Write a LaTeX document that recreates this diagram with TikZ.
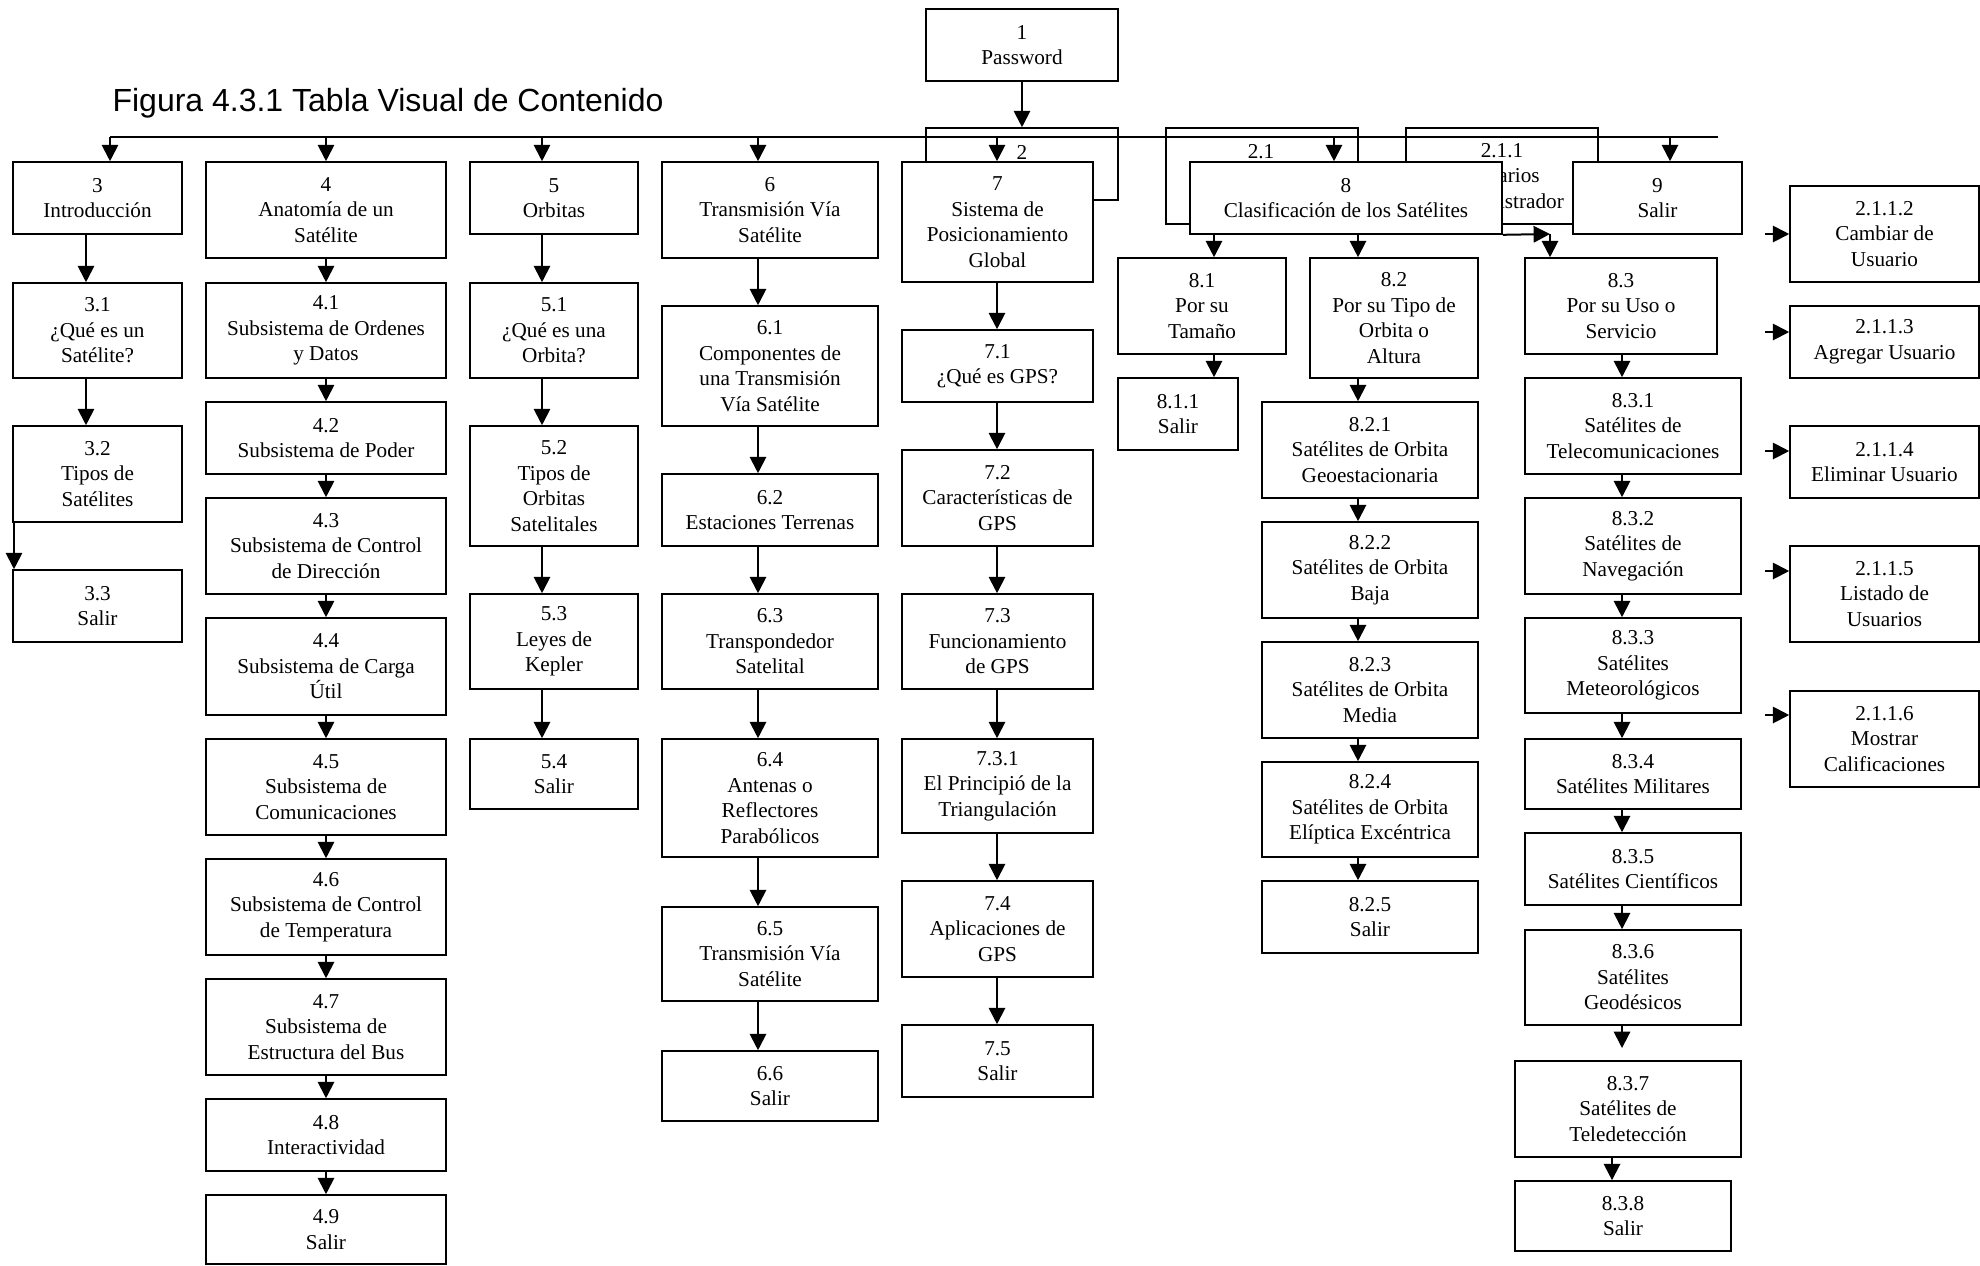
\documentclass[tikz,border=0pt]{standalone}
\usepackage{fontspec}
\setmainfont{Liberation Serif}
\newfontfamily\titlefont{Liberation Sans}
\usetikzlibrary{arrows.meta}
\newcommand\nodefont{\fontsize{10.6}{12.75}\selectfont}
\newcommand\bx[6]{\node[box, minimum width={(#3-#2)*0.5pt}, minimum height={(#5-#4)*0.5pt}] (#1) at ({(#2+#3)/2},{(#4+#5)/2}) {#6};}
\newcommand\va[3]{\draw[arr] (#1.south -| #3) -- (#2.north -| #3);}
\begin{document}
\begin{tikzpicture}[x=0.5pt,y=-0.5pt,
  box/.style={draw, line width=0.8pt, fill=white, inner sep=0pt, align=center, font=\nodefont},
  lbl/.style={inner sep=0pt, font=\nodefont},
  arr/.style={-{Triangle[width=8.2pt,length=8.2pt]}, line width=1pt},
  bus/.style={line width=0.6pt}]
\useasboundingbox (0,0) rectangle (1980,1265);
\node[font=\titlefont\fontsize{16}{19}\selectfont, inner sep=0pt] (title) at (388,103) {Figura 4.3.1 Tabla Visual de Contenido};
% coordinates
\coordinate (bA) at (110,137);
\coordinate (bB) at (326,137);
\coordinate (bC) at (542,137);
\coordinate (bD) at (758,137);
\coordinate (bE) at (997,137);
\coordinate (bF) at (1334,137);
\coordinate (bG) at (1670,137);
\coordinate (busend) at (1718,137);
\coordinate (k1) at (1022,0);
\coordinate (k3) at (86,0);
\coordinate (k3l) at (14,0);
\coordinate (k4) at (326,0);
\coordinate (k5) at (542,0);
\coordinate (k6) at (758,0);
\coordinate (k7) at (997,0);
\coordinate (k81) at (1214,0);
\coordinate (k82) at (1358,0);
\coordinate (k83) at (1622,0);
\coordinate (k837) at (1612,0);
% boxes behind
\bx{b1}{926}{1118}{9}{81}{1\\Password}
\bx{b2}{926}{1118}{128}{200}{}
\node[lbl] (l2) at (1022,152) {2};
\bx{b21}{1166}{1358}{128}{224}{}
\node[lbl] (l21) at (1261,152) {2.1};
\bx{b211}{1406}{1598}{128}{224}{2.1.1\\Usuarios\\Administrador}
\draw[bus] (bA) -- (busend);
% column 3
\bx{b3}{13}{182}{162}{234}{3\\Introducción}
\bx{b31}{13}{182}{283}{378}{3.1\\¿Qué es un\\Satélite?}
\bx{b32}{13}{182}{426}{522}{3.2\\Tipos de\\Satélites}
\bx{b33}{13}{182}{570}{642}{3.3\\Salir}
% column 4
\bx{b4}{206}{446}{162}{258}{4\\Anatomía de un\\Satélite}
\bx{b41}{206}{446}{283}{378}{4.1\\Subsistema de Ordenes\\y Datos}
\bx{b42}{206}{446}{402}{474}{4.2\\Subsistema de Poder}
\bx{b43}{206}{446}{498}{594}{4.3\\Subsistema de Control\\de Dirección}
\bx{b44}{206}{446}{618}{715}{4.4\\Subsistema de Carga\\Útil}
\bx{b45}{206}{446}{739}{835}{4.5\\Subsistema de\\Comunicaciones}
\bx{b46}{206}{446}{859}{955}{4.6\\Subsistema de Control\\de Temperatura}
\bx{b47}{206}{446}{979}{1075}{4.7\\Subsistema de\\Estructura del Bus}
\bx{b48}{206}{446}{1099}{1171}{4.8\\Interactividad}
\bx{b49}{206}{446}{1195}{1264}{4.9\\Salir}
% column 5
\bx{b5}{470}{638}{162}{234}{5\\Orbitas}
\bx{b51}{470}{638}{283}{378}{5.1\\¿Qué es una\\Orbita?}
\bx{b52}{470}{638}{426}{546}{5.2\\Tipos de\\Orbitas\\Satelitales}
\bx{b53}{470}{638}{594}{689}{5.3\\Leyes de\\Kepler}
\bx{b54}{470}{638}{739}{809}{5.4\\Salir}
% column 6
\bx{b6}{662}{878}{162}{258}{6\\Transmisión Vía\\Satélite}
\bx{b61}{662}{878}{306}{426}{6.1\\Componentes de\\una Transmisión\\Vía Satélite}
\bx{b62}{662}{878}{474}{546}{6.2\\Estaciones Terrenas}
\bx{b63}{662}{878}{594}{689}{6.3\\Transpondedor\\Satelital}
\bx{b64}{662}{878}{739}{857}{6.4\\Antenas o\\Reflectores\\Parabólicos}
\bx{b65}{662}{878}{907}{1001}{6.5\\Transmisión Vía\\Satélite}
\bx{b66}{662}{878}{1051}{1121}{6.6\\Salir}
% column 7
\bx{b7}{902}{1093}{162}{282}{7\\Sistema de\\Posicionamiento\\Global}
\bx{b71}{902}{1093}{330}{402}{7.1\\¿Qué es GPS?}
\bx{b72}{902}{1093}{450}{546}{7.2\\Características de\\GPS}
\bx{b73}{902}{1093}{594}{689}{7.3\\Funcionamiento\\de GPS}
\bx{b731}{902}{1093}{739}{833}{7.3.1\\El Principió de la\\Triangulación}
\bx{b74}{902}{1093}{881}{977}{7.4\\Aplicaciones de\\GPS}
\bx{b75}{902}{1093}{1025}{1097}{7.5\\Salir}
% column 8
\bx{b8}{1190}{1502}{162}{234}{8\\Clasificación de los Satélites}
\bx{b81}{1118}{1286}{258}{354}{8.1\\Por su\\Tamaño}
\bx{b811}{1118}{1238}{378}{450}{8.1.1\\Salir}
\bx{b82}{1310}{1478}{258}{378}{8.2\\Por su Tipo de\\Orbita o\\Altura}
\bx{b821}{1262}{1478}{402}{498}{8.2.1\\Satélites de Orbita\\Geoestacionaria}
\bx{b822}{1262}{1478}{522}{618}{8.2.2\\Satélites de Orbita\\Baja}
\bx{b823}{1262}{1478}{642}{738}{8.2.3\\Satélites de Orbita\\Media}
\bx{b824}{1262}{1478}{762}{857}{8.2.4\\Satélites de Orbita\\Elíptica Excéntrica}
\bx{b825}{1262}{1478}{881}{953}{8.2.5\\Salir}
\bx{b83}{1525}{1717}{258}{354}{8.3\\Por su Uso o\\Servicio}
\bx{b831}{1525}{1741}{378}{474}{8.3.1\\Satélites de\\Telecomunicaciones}
\bx{b832}{1525}{1741}{498}{594}{8.3.2\\Satélites de\\Navegación}
\bx{b833}{1525}{1741}{618}{713}{8.3.3\\Satélites\\Meteorológicos}
\bx{b834}{1525}{1741}{739}{809}{8.3.4\\Satélites Militares}
\bx{b835}{1525}{1741}{833}{905}{8.3.5\\Satélites Científicos}
\bx{b836}{1525}{1741}{930}{1025}{8.3.6\\Satélites\\Geodésicos}
\bx{b837}{1515}{1741}{1061}{1157}{8.3.7\\Satélites de\\Teledetección}
\bx{b838}{1515}{1731}{1181}{1251}{8.3.8\\Salir}
\bx{b9}{1573}{1742}{162}{234}{9\\Salir}
% right column
\bx{b2112}{1790}{1979}{186}{282}{2.1.1.2\\Cambiar de\\Usuario}
\bx{b2113}{1790}{1979}{306}{378}{2.1.1.3\\Agregar Usuario}
\bx{b2114}{1790}{1979}{426}{498}{2.1.1.4\\Eliminar Usuario}
\bx{b2115}{1790}{1979}{546}{642}{2.1.1.5\\Listado de\\Usuarios}
\bx{b2116}{1790}{1979}{691}{787}{2.1.1.6\\Mostrar\\Calificaciones}
% arrows
\va{b1}{b2}{k1}
\draw[arr] (bA) -- (b3.north -| bA);
\draw[arr] (bB) -- (b4.north -| bB);
\draw[arr] (bC) -- (b5.north -| bC);
\draw[arr] (bD) -- (b6.north -| bD);
\draw[arr] (bE) -- (b7.north -| bE);
\draw[arr] (bF) -- (b8.north -| bF);
\draw[arr] (bG) -- (b9.north -| bG);
\va{b3}{b31}{k3}
\va{b31}{b32}{k3}
\va{b32}{b33}{k3l}
\va{b4}{b41}{k4}
\va{b41}{b42}{k4}
\va{b42}{b43}{k4}
\va{b43}{b44}{k4}
\va{b44}{b45}{k4}
\va{b45}{b46}{k4}
\va{b46}{b47}{k4}
\va{b47}{b48}{k4}
\va{b48}{b49}{k4}
\va{b5}{b51}{k5}
\va{b51}{b52}{k5}
\va{b52}{b53}{k5}
\va{b53}{b54}{k5}
\va{b6}{b61}{k6}
\va{b61}{b62}{k6}
\va{b62}{b63}{k6}
\va{b63}{b64}{k6}
\va{b64}{b65}{k6}
\va{b65}{b66}{k6}
\va{b7}{b71}{k7}
\va{b71}{b72}{k7}
\va{b72}{b73}{k7}
\va{b73}{b731}{k7}
\va{b731}{b74}{k7}
\va{b74}{b75}{k7}
\va{b8}{b81}{k81}
\va{b81}{b811}{k81}
\va{b8}{b82}{k82}
\va{b82}{b821}{k82}
\va{b821}{b822}{k82}
\va{b822}{b823}{k82}
\va{b823}{b824}{k82}
\va{b824}{b825}{k82}
\coordinate (c83) at (1550,234);
\draw[arr] (b8.south east) -- (c83);
\draw[arr] (c83) -- (b83.north -| c83);
\va{b83}{b831}{k83}
\va{b831}{b832}{k83}
\va{b832}{b833}{k83}
\va{b833}{b834}{k83}
\va{b834}{b835}{k83}
\va{b835}{b836}{k83}
\coordinate (t837) at (1622,1048);
\draw[arr] (b836.south -| k83) -- (t837);
\va{b837}{b838}{k837}
\coordinate (s2) at (1765,234);
\coordinate (s3) at (1765,332);
\coordinate (s4) at (1765,451);
\coordinate (s5) at (1765,571);
\coordinate (s6) at (1765,715);
\draw[arr] (s2) -- (s2 -| b2112.west);
\draw[arr] (s3) -- (s3 -| b2113.west);
\draw[arr] (s4) -- (s4 -| b2114.west);
\draw[arr] (s5) -- (s5 -| b2115.west);
\draw[arr] (s6) -- (s6 -| b2116.west);
\end{tikzpicture}
\end{document}
